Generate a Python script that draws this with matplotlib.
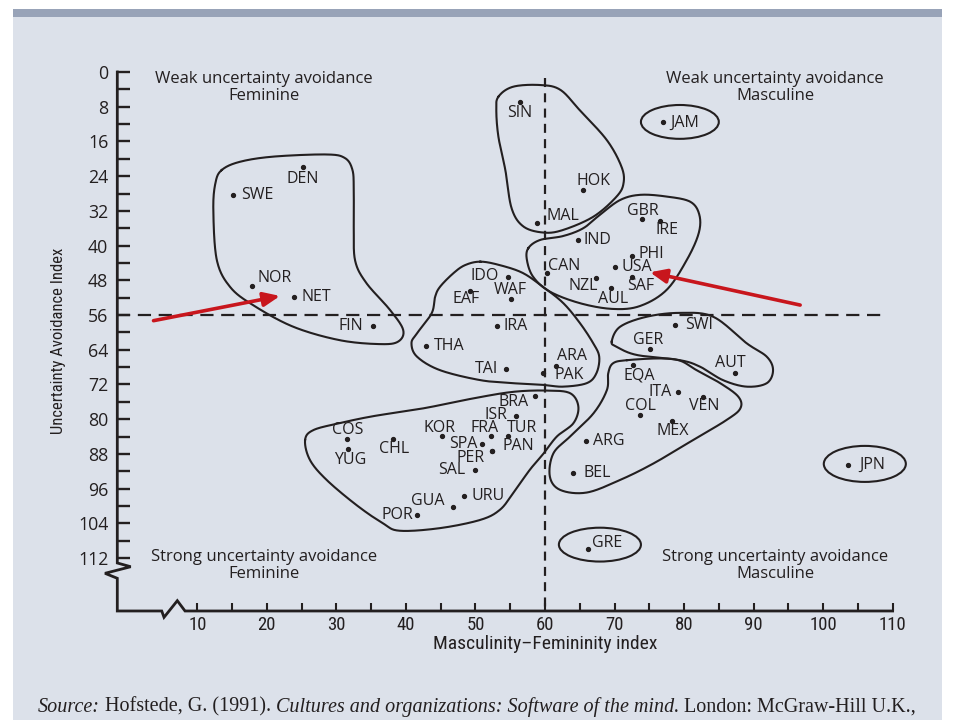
import numpy as np
import matplotlib
matplotlib.use("Agg")
import matplotlib.pyplot as plt
from matplotlib.patches import Rectangle, Ellipse

plt.rcParams['lines.scale_dashes'] = False

# ---------------- data ----------------
codes = ["DEN", "SWE", "NOR", "NET", "FIN", "THA", "SIN", "JAM", "HOK", "MAL",
         "GBR", "IRE", "IND", "PHI", "CAN", "USA", "NZL", "SAF", "AUL", "IDO",
         "WAF", "EAF", "IRA", "SWI", "GER", "ARA", "PAK", "TAI", "AUT", "EQA",
         "ITA", "VEN", "COL", "MEX", "ARG", "BEL", "JPN", "GRE", "BRA", "ISR",
         "FRA", "TUR", "KOR", "SPA", "PAN", "PER", "SAL", "COS", "YUG", "CHL",
         "URU", "GUA", "POR"]
mas = [25.2, 15.1, 17.9, 23.9, 35.3, 42.9, 56.4, 77.0, 65.4, 58.8,
       73.9, 76.6, 64.7, 72.5, 60.3, 70.1, 67.3, 72.5, 69.5, 54.7,
       55.1, 49.2, 53.1, 78.7, 75.1, 61.6, 59.7, 54.4, 87.4, 72.6,
       79.2, 82.7, 73.7, 78.2, 65.9, 64.1, 103.6, 66.2, 58.5, 55.8,
       52.2, 54.7, 45.2, 51.0, 52.4, 52.4, 49.9, 31.5, 31.6, 38.2,
       48.4, 46.8, 41.6]
uai = [22.0, 28.3, 49.4, 51.8, 58.5, 63.1, 7.0, 11.6, 27.2, 34.9,
       33.9, 34.3, 38.7, 42.3, 46.4, 44.9, 47.5, 47.3, 49.8, 47.2,
       52.4, 50.5, 58.5, 58.3, 63.8, 67.7, 69.3, 68.4, 69.3, 67.4,
       73.7, 75.0, 79.1, 80.4, 85.0, 92.3, 90.6, 110.0, 74.7, 79.2,
       83.9, 83.9, 83.9, 85.7, 87.3, 87.3, 91.7, 84.6, 86.8, 84.6,
       97.7, 100.3, 102.1]

# label placement (offset in pixels, screen y down) -- styling only
label_dx = [0, 8, 5, 8, -10, 8, 0, 7, 11, 10,
            1, 7, 6, 7, 1, 6, 2, -5, 2, -9,
            -1, -4, 6, 10, -2, 1, 12, -8, -5, 7,
            -7, 1, 0, 1, 7, 10, 11, 4, -6, -8,
            -6, 14, -3, -5, 10, -8, -10, 1, 3, 1,
            7, -9, -4]
label_dy = [12, 0, -8, 0, 0, 0, 11, 0, -9, -7,
            -8, 9, 0, -1.5, -7, 0.5, 8, 9, 11, -1,
            -9, 8, 0, 0, -9, -10, 2, 0, -10, 11,
            0, 9, -9, 10, 0, 0, 0, -6, 6, -1,
            -8, -8, -8, 0, -5, 7, 0, -9, 11, 10,
            0, -6, 0]
label_ha = ["center", "left", "left", "left", "right", "left", "center", "left", "center", "left",
            "center", "center", "left", "left", "left", "left", "right", "left", "center", "right",
            "center", "center", "left", "left", "center", "left", "left", "right", "center", "center",
            "right", "center", "center", "center", "left", "left", "left", "left", "right", "right",
            "center", "center", "center", "right", "left", "right", "right", "center", "center", "center",
            "left", "right", "right"]

x_major = list(range(10, 111, 10))
x_minor = list(range(15, 106, 10))
y_major = list(range(0, 113, 8))
y_minor = list(range(4, 109, 8))

x_title = "Masculinity\u2013Femininity index"
y_title = "Uncertainty Avoidance Index"
quad_text = ["Weak uncertainty avoidance\nFeminine", "Weak uncertainty avoidance\nMasculine",
             "Strong uncertainty avoidance\nFeminine", "Strong uncertainty avoidance\nMasculine"]
quad_x = [19.6, 93.1, 19.6, 93.1]
quad_y = [3.5, 3.5, 113.7, 113.7]

divider_mas = 60
divider_uai = 56

# cluster outlines (in index units)
blob_nordic = [(13.5, 22.6), (16.1, 20.7), (20.9, 19.5), (28.5, 19.0), (31.2, 19.8), (32.3, 22.5),
               (32.5, 27.0), (32.5, 36.0), (32.7, 43.5), (34.3, 48.6), (37.7, 54.8), (39.6, 59.4),
               (38.9, 62.1), (36.3, 62.7), (30.5, 61.8), (23.8, 58.7), (18.0, 53.7), (14.7, 49.5),
               (12.8, 43.3), (12.3, 31.8), (12.6, 25.6)]
blob_asia = [(53.3, 5.7), (55.4, 3.4), (59.3, 3.0), (62.2, 4.1), (65.0, 8.8), (68.9, 15.7),
             (71.0, 21.8), (71.3, 25.6), (70.3, 28.7), (67.0, 33.3), (62.6, 36.4), (59.8, 37.0),
             (56.9, 35.6), (55.2, 31.4), (54.3, 22.6), (53.3, 14.9), (53.0, 8.8)]
blob_anglo = [(57.6, 40.6), (57.4, 43.3), (58.3, 47.2), (60.7, 50.6), (65.1, 53.3), (69.8, 54.6),
              (73.7, 53.9), (77.5, 50.2), (80.4, 43.3), (82.1, 37.2), (82.2, 32.9), (80.9, 29.9),
              (77.5, 28.7), (73.7, 28.3), (70.8, 29.5), (67.9, 32.9), (65.5, 36.0), (62.6, 37.8),
              (59.3, 38.7)]
blob_middle = [(50.7, 43.7), (53.5, 44.5), (56.8, 46.3), (59.7, 49.5), (62.6, 53.2), (65.0, 57.8),
               (66.9, 62.4), (67.8, 65.6), (67.4, 69.4), (66.0, 71.7), (62.6, 72.5), (59.8, 72.1),
               (55.4, 71.7), (50.7, 71.0), (44.9, 68.7), (41.6, 65.6), (40.8, 62.5), (41.6, 60.2),
               (43.7, 55.6), (44.2, 51.8), (44.9, 49.5), (46.8, 46.4), (48.5, 44.5)]
blob_german = [(69.6, 62.1), (70.8, 58.7), (74.6, 56.4), (79.4, 55.5), (84.2, 56.4), (89.0, 62.5),
               (91.9, 65.6), (92.8, 68.7), (91.9, 71.7), (89.0, 72.5), (85.6, 71.0), (82.3, 67.9),
               (79.4, 66.4), (73.2, 65.2), (70.3, 63.3)]
blob_latin_m = [(71.8, 66.4), (76.5, 66.0), (79.4, 66.5), (81.8, 68.7), (85.2, 71.7), (87.8, 74.8),
                (88.1, 77.5), (86.1, 80.2), (81.3, 84.8), (75.6, 90.2), (70.8, 94.0), (66.0, 96.9),
                (62.2, 96.3), (60.7, 93.2), (61.2, 87.9), (63.6, 84.0), (67.0, 78.6), (68.9, 73.3),
                (69.1, 69.4), (69.8, 67.1)]
blob_latin_f = [(25.5, 84.8), (26.7, 82.5), (30.5, 80.9), (35.3, 79.3), (42.5, 77.5), (49.7, 75.2),
                (55.4, 73.7), (60.2, 73.4), (63.6, 74.0), (64.8, 77.1), (64.1, 80.9), (61.7, 84.0),
                (59.8, 87.9), (57.8, 91.7), (55.4, 97.1), (53.5, 100.9), (50.7, 103.2), (44.9, 105.1),
                (39.1, 105.7), (36.7, 104.0), (32.9, 99.8), (28.6, 94.0), (26.2, 89.4)]
ovals = [((79.4, 11.5), 11.2, 7.8), ((106.0, 90.3), 11.8, 8.3), ((67.9, 108.9), 11.8, 7.8)]

arrows = [((3.7, 57.3), (21.9, 51.6)), ((96.7, 53.7), (75.1, 46.15))]

source_parts = [("Source:", "italic"), ("Hofstede, G. (1991).", "normal"),
                ("Cultures and organizations: Software of the mind.", "italic"),
                ("London: McGraw-Hill U.K.,", "normal")]

# ---------------- styling / layout ----------------
INK = "#231f20"
BG = "#dce1ea"
BAR = "#98a3b8"
RED = "#c8161d"
W, H = 960, 720
PX0, SX = 127.8, 6.953     # pixel of x=0, pixels per unit
PY0, SY = 72.0, 4.34       # pixel of y=0, pixels per unit
XL = (-2, 112)
YL = (126, -4)

SANS = ["Open Sans", "DejaVu Sans"]
NARROW = ["Roboto Condensed", "Liberation Sans Narrow", "DejaVu Sans"]
SERIF = ["Liberation Serif", "DejaVu Serif"]

fig = plt.figure(figsize=(W / 100, H / 100), dpi=100, facecolor="white")
fig.add_artist(Rectangle((13 / W, 0), (942 - 13) / W, (720 - 9) / H, transform=fig.transFigure,
                         facecolor=BG, edgecolor="none", zorder=0))
fig.add_artist(Rectangle((13 / W, 1 - 17 / H), (942 - 13) / W, 8 / H, transform=fig.transFigure,
                         facecolor=BAR, edgecolor="none", zorder=0))

left_px = PX0 + XL[0] * SX
right_px = PX0 + XL[1] * SX
top_px = PY0 + YL[1] * SY
bot_px = PY0 + YL[0] * SY
ax = fig.add_axes([left_px / W, 1 - bot_px / H, (right_px - left_px) / W, (bot_px - top_px) / H])
ax.patch.set_visible(False)
ax.set_xlim(*XL)
ax.set_ylim(*YL)

x_axis_y = 124.19
y_axis_x = -1.51
ax.spines["left"].set_position(("data", y_axis_x))
ax.spines["bottom"].set_position(("data", x_axis_y))
for s in ax.spines.values():
    s.set_visible(False)

# axis lines with break marks
axis_x = [y_axis_x, y_axis_x, 0.42, -3.28, y_axis_x, y_axis_x, 4.88, 5.21, 7.12, 8.23, 110.0]
axis_y = [0, 113.13, 113.99, 115.51, 116.66, x_axis_y, x_axis_y, 125.65, 121.82, x_axis_y, x_axis_y]
ax.plot(axis_x, axis_y, color=INK, lw=2.0, clip_on=False, solid_joinstyle="miter", zorder=3)

ax.set_xticks(x_major)
ax.set_xticks(x_minor, minor=True)
ax.set_yticks(y_major)
ax.set_yticks(y_minor, minor=True)
ax.tick_params(axis="y", which="both", direction="in", length=9.2, width=1.7, color=INK,
               pad=6.5, labelsize=12.8, labelcolor=INK)
ax.tick_params(axis="x", which="both", direction="in", length=5.5, width=1.5, color=INK,
               pad=3.5, labelsize=13.5, labelcolor=INK)
for lab in ax.get_yticklabels():
    lab.set_family(SANS)
for lab in ax.get_xticklabels():
    lab.set_family(NARROW)
    lab.set_fontstretch("condensed")

# dividers
ax.plot([divider_mas, divider_mas], [1.4, x_axis_y], color=INK, lw=1.6, dashes=(6.5, 4.5), zorder=2)
ax.plot([y_axis_x, 109.2], [divider_uai, divider_uai], color=INK, lw=1.6, dashes=(9.5, 5.5), zorder=2)


def closed_curve(pts, n=24):
    P = np.asarray(pts, float)
    m = len(P)
    t = np.linspace(0, 1, n, endpoint=False)[:, None]
    segs = []
    for i in range(m):
        p0, p1, p2, p3 = P[i - 1], P[i], P[(i + 1) % m], P[(i + 2) % m]
        segs.append(0.5 * (2 * p1 + (-p0 + p2) * t + (2 * p0 - 5 * p1 + 4 * p2 - p3) * t ** 2
                           + (-p0 + 3 * p1 - 3 * p2 + p3) * t ** 3))
    c = np.vstack(segs)
    return np.vstack([c, c[:1]])


for blob in [blob_nordic, blob_asia, blob_anglo, blob_middle, blob_german, blob_latin_m, blob_latin_f]:
    c = closed_curve(blob)
    ax.plot(c[:, 0], c[:, 1], color=INK, lw=1.5, zorder=2, clip_on=False)
for (cx, cy), w, h in ovals:
    ax.add_patch(Ellipse((cx, cy), w, h, facecolor="none", edgecolor=INK, lw=1.5, zorder=2))

# points and labels
ax.plot(mas, uai, "o", color=INK, markersize=2.8, zorder=4, clip_on=False)
for c, x, y, dx, dy, ha in zip(codes, mas, uai, label_dx, label_dy, label_ha):
    ax.annotate(c, (x, y), xytext=(dx, -dy), textcoords="offset pixels", ha=ha, va="center",
                fontsize=11.5, family=SANS, color=INK, zorder=5, annotation_clip=False)

# quadrant texts
for t, x, y in zip(quad_text, quad_x, quad_y):
    ax.text(x, y, t, ha="center", va="center", fontsize=12, family=SANS, color=INK,
            linespacing=1.08, clip_on=False)

# axis titles
ax.text(60.0, 131.8, x_title, ha="center", va="center", fontsize=14, family=NARROW,
        fontstretch="condensed", color=INK, clip_on=False)
ax.text(-9.9, 62.0, y_title, ha="center", va="center", rotation=90, fontsize=12, family=NARROW,
        fontstretch="condensed", color=INK, clip_on=False)

# red arrows
for tail, tip in arrows:
    ax.annotate("", xy=tip, xytext=tail, annotation_clip=False,
                arrowprops=dict(arrowstyle="-|>,head_length=0.7,head_width=0.3", color=RED,
                                lw=2.6, shrinkA=0, shrinkB=0, mutation_scale=14), zorder=6)

# source line (mixed italic / roman)
fig.canvas.draw()
rend = fig.canvas.get_renderer()
xpos = 38.0
for txt, style in source_parts:
    t = fig.text(xpos / W, 1 - 707 / H, txt, fontstyle=style, family=SERIF, fontsize=14.5,
                 va="center", ha="left", color=INK)
    bb = t.get_window_extent(renderer=rend)
    xpos = bb.x1 + 4.8

fig.savefig("out.png", dpi=100, facecolor="white")
